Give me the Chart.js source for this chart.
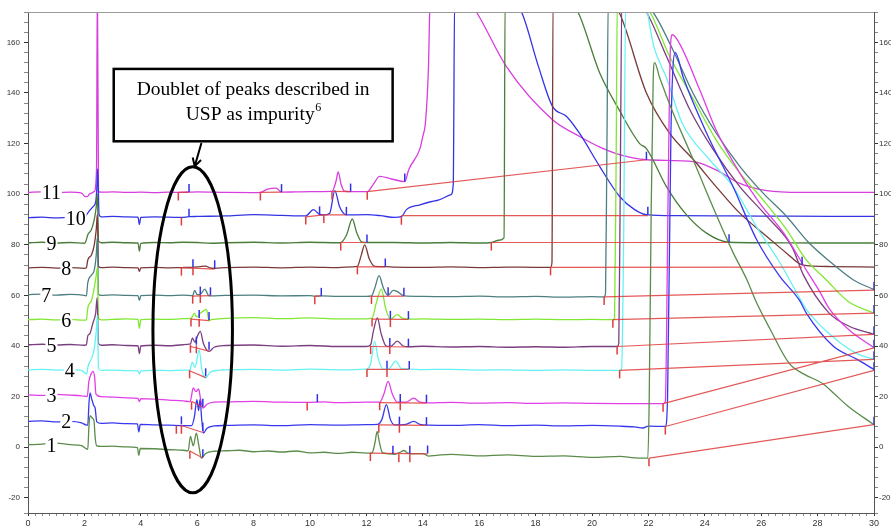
<!DOCTYPE html>
<html>
<head>
<meta charset="utf-8">
<script src="https://cdn.jsdelivr.net/npm/chart.js@4.4.1/dist/chart.umd.min.js"></script>
<style>
  html, body { margin: 0; padding: 0; background: #fff; }
  #wrap { width: 891px; height: 531px; }
</style>
</head>
<body>
<div id="wrap"><canvas id="chrom" width="891" height="531"></canvas></div>
<script>
// Chromatograms 1..11 (time in minutes, response)
const trace1 = [[0,1],[0.5,1.2],[1.0,1.6],[1.5,1.0],[1.9,0.6],[2.05,-0.5],[2.12,-0.8],[2.16,8],[2.2,12.5],[2.28,11.5],[2.34,10.5],[2.38,4],[2.44,0.5],[2.6,0.3],[3.0,0.4],[3.5,0.1],[3.88,-0.2],[3.93,-3.2],[3.98,-0.5],[4.5,-0.6],[5.0,-1.0],[5.5,-1.2],[5.68,-1.4],[5.76,4.3],[5.86,0.5],[5.97,5.6],[6.06,0.5],[6.15,-4.3],[6.3,-2.5],[6.6,-1.6],[7.0,-1.4],[7.5,-1.2],[8.0,-1.8],[8.5,-1.5],[9.0,-1.9],[9.5,-1.5],[10.0,-2.2],[10.5,-2.0],[11.0,-2.4],[11.5,-2.0],[12.0,-2.3],[12.2,-2.2],[12.3,1.5],[12.38,6.2],[12.46,2],[12.56,-2],[12.7,-2.5],[13.0,-2.8],[13.2,-2.0],[13.33,-1.3],[13.45,-2.2],[13.6,-2.6],[14.0,-2.5],[14.2,-3.5],[14.5,-3.2],[15,-2.8],[16,-3.4],[17,-3.0],[18,-3.6],[19,-3.4],[20,-4.0],[21,-3.6],[21.5,-4.2],[21.98,-4.3],[22.03,20],[22.1,95],[22.17,145],[22.22,152],[22.4,146],[22.88,132],[23.5,116],[24.17,98],[25.0,77],[25.5,66],[25.8,58],[26.3,47],[27.0,33],[27.5,29],[28.2,25],[28.6,21],[29.1,16],[30,8.9]];
const trace2 = [[0,10.2],[0.5,10.4],[1.0,10.0],[1.5,10.2],[1.9,9.6],[2.05,8.8],[2.12,8.7],[2.16,17],[2.2,21.5],[2.26,19],[2.33,16.5],[2.38,15.5],[2.44,10],[2.6,9.4],[3.0,9.6],[3.5,9.3],[3.88,9.2],[3.93,6],[3.98,9],[4.5,8.8],[5.0,8.7],[5.5,8.5],[5.8,8.5],[5.9,12],[5.99,18.8],[6.05,14.5],[6.1,18.9],[6.16,11],[6.22,5.6],[6.35,7.5],[6.6,8.4],[7.0,8.6],[8,8.8],[9,8.5],[10,8.9],[11,8.7],[12,8.9],[12.4,9],[12.55,11],[12.71,16.8],[12.85,11],[13.0,8.8],[13.4,9.0],[13.68,10.2],[13.9,9.0],[14.2,8.7],[15,8.6],[16,8.9],[17,8.5],[18,8.7],[19,8.4],[20,8.6],[21,8.3],[21.5,8.0],[21.8,7.6],[22.0,8.3],[22.6,8.2],[22.68,20],[22.8,125],[22.95,156],[23.24,146],[24.07,124],[25.0,103],[25.84,82],[26.66,67.5],[27.36,58],[27.6,53],[28.55,40],[29.4,34.7],[30,30.7]];
const trace3 = [[0,20.7],[0.5,20.5],[1.0,20.9],[1.5,20.6],[1.9,20.3],[2.1,20],[2.16,26],[2.24,29],[2.3,30],[2.36,28],[2.41,21],[2.6,20],[3.0,19.8],[3.5,19.5],[3.9,19.3],[3.95,18],[4.0,19.2],[4.5,19.0],[5.0,18.6],[5.5,18.3],[5.75,18],[5.86,23.4],[5.95,22],[6.05,23],[6.12,19],[6.2,15.5],[6.35,17],[6.6,17.8],[7,17.9],[8,18.1],[9,17.8],[9.9,17.7],[10.5,17.9],[11,17.6],[12,17.8],[12.47,17.8],[12.62,21],[12.77,26],[12.92,21],[13.1,17.8],[13.4,17.8],[13.68,19.4],[13.9,17.8],[14.2,17.5],[15,17.7],[16,17.4],[17,17.6],[18,17.3],[19,17.5],[20,17.3],[21,17.2],[22,17.2],[22.52,17.2],[22.6,18],[22.7,100],[22.78,158],[22.85,163],[23.1,159.6],[23.83,141],[24.4,125.4],[25.24,108.3],[25.95,96.4],[26.8,84.6],[27.6,70],[28.1,61],[28.4,55],[29.1,46.5],[30,39.3]];
const trace4 = [[0,30.6],[0.5,30.8],[1.0,30.5],[1.5,30.7],[1.9,30.4],[2.0,29.5],[2.08,29],[2.13,32],[2.25,35],[2.35,39],[2.42,46],[2.46,52],[2.5,31],[2.6,30.4],[3.0,30.5],[3.5,30.3],[3.9,30.2],[3.95,29],[4.0,30.2],[4.5,30.4],[5.0,30.3],[5.5,30.5],[5.73,30.5],[5.83,33.5],[5.92,31.5],[6.07,38.5],[6.16,31],[6.3,27.4],[6.45,29.5],[6.7,30.4],[7,30.6],[8,30.8],[9,30.5],[10,30.9],[11,30.6],[12.0,30.9],[12.15,33],[12.29,41.8],[12.42,35],[12.6,30.8],[12.8,31],[13.04,34],[13.25,31],[13.5,30.9],[14,30.7],[15,30.8],[16,30.5],[17,30.6],[18,30.4],[19,30.6],[20,30.4],[20.98,30.4],[21.05,31],[21.12,80],[21.2,178],[21.8,178],[22.2,158],[22.64,146],[23.2,128],[24.17,113.6],[25.0,103],[25.84,87],[26.66,73],[27.36,59],[27.6,54.5],[28.2,47],[28.8,41.3],[29.4,37],[30,34.7]];
const trace5 = [[0,40.5],[0.5,40.7],[1.0,40.4],[1.5,40.6],[2.0,40.3],[2.07,40.5],[2.12,44],[2.2,45],[2.3,49],[2.4,53],[2.45,59],[2.5,41],[2.6,40.3],[3.0,40.5],[3.5,40.2],[3.9,40.1],[3.95,37],[4.0,40],[4.5,40.3],[5.0,40.1],[5.5,40.5],[5.76,40.8],[5.83,43.2],[5.92,41.5],[6.01,44],[6.11,45.8],[6.22,41],[6.42,37.9],[6.6,39.5],[7,40.2],[8,40.4],[9,39.9],[10,40.2],[11,39.8],[12.0,39.8],[12.15,40.5],[12.25,46],[12.39,51.1],[12.52,45],[12.7,40],[12.85,39.8],[13.1,41.9],[13.3,40],[13.5,39.7],[14,39.9],[15,39.6],[16,39.8],[17,39.5],[18,39.7],[19,39.5],[20,39.8],[20.89,39.8],[20.95,41],[21.0,100],[21.06,178],[21.5,178],[21.93,172],[22.64,154.5],[23.47,133.4],[24.3,117.6],[25.24,103],[26.2,91.2],[27.1,79],[27.5,68],[28.4,53.1],[29.1,47.9],[30,44.6]];
const trace6 = [[0,50.4],[0.5,50.6],[1.0,50.3],[1.5,50.5],[2.0,50.2],[2.07,50.3],[2.12,55],[2.25,58],[2.35,63],[2.42,68],[2.46,71],[2.5,51],[2.6,50.3],[3.0,50.5],[3.5,50.7],[3.9,50.5],[3.95,47],[4.0,50.4],[4.5,50.6],[5.0,50.5],[5.5,50.8],[5.78,50.9],[5.9,52.9],[5.98,51.5],[6.12,53],[6.33,54.5],[6.42,50],[6.5,50.4],[7,50.9],[8,51.2],[9,50.8],[10,51.1],[11,50.7],[12.0,50.7],[12.2,51],[12.35,57],[12.53,62.5],[12.68,55],[12.85,50.5],[13.09,52.4],[13.3,50.8],[13.5,50.6],[14,50.7],[15,50.5],[16,50.6],[17,50.4],[18,50.6],[19,50.4],[20,50.5],[20.74,50.4],[20.8,51],[20.86,120],[20.9,178],[21.5,178],[22.05,172],[22.75,154.5],[23.6,137.4],[24.4,121.5],[25.24,108.4],[26.06,97.8],[26.9,86],[27.6,74],[28.3,66.2],[29.1,57.5],[30,53]];
const trace7 = [[0,60.3],[0.5,60.5],[1.0,60.1],[1.5,60.4],[2.0,60],[2.07,59.8],[2.12,65],[2.25,68],[2.35,70],[2.42,76],[2.46,83],[2.5,60.5],[2.6,60],[3.0,60.2],[3.5,60],[3.9,59.9],[3.95,58],[4.0,59.9],[4.5,60.1],[5.0,59.9],[5.5,60.1],[5.84,59.9],[5.91,62],[6.0,60.3],[6.11,60.4],[6.27,62.5],[6.4,60],[6.5,59.8],[7,60],[8,60.1],[9,59.8],[10,59.9],[10.17,59.7],[10.4,59.8],[11,59.6],[12.0,59.6],[12.18,59.8],[12.3,63],[12.45,67.8],[12.6,63],[12.77,60],[12.95,62],[13.1,61.5],[13.33,59.8],[14,59.6],[15,59.5],[16,59.7],[17,59.4],[18,59.6],[19,59.3],[20,59.5],[20.43,59.4],[20.48,61],[20.53,120],[20.58,178],[21.5,178],[22.16,172],[22.87,157],[23.58,140],[24.4,124.2],[25.24,111],[26.06,100.5],[26.9,91.2],[27.7,80.7],[28.5,72.8],[29.26,66.2],[30,62.3]];
const trace8 = [[0,70.9],[0.5,71.1],[1.0,70.8],[1.5,71],[2.0,70.7],[2.07,70.9],[2.12,74],[2.25,76],[2.35,80],[2.42,86],[2.46,92],[2.5,71.5],[2.6,71],[3.0,71.2],[3.5,71],[3.9,70.9],[3.95,69.5],[4.0,70.9],[4.5,71.1],[5.0,70.9],[5.44,71],[5.85,71.1],[6.1,71.4],[6.3,71.6],[6.45,70.9],[6.62,70.7],[7,71],[8,71.2],[9,70.9],[10,71.2],[11,71],[11.5,71.3],[11.68,71.5],[11.82,76],[11.94,80],[12.1,74.5],[12.3,71.5],[12.67,71.4],[13,71.2],[14,71.1],[15,71.3],[16,71],[17,71.2],[18,71.1],[18.53,71.1],[18.58,73],[18.62,178],[20.5,178],[20.98,171.4],[21.93,140],[22.75,124.1],[23.6,113.6],[24.4,103],[25.24,92.5],[26.2,83.3],[26.9,76.7],[27.45,72.1],[28.5,71.4],[30,71.2]];
const trace9 = [[0,80.8],[0.5,81],[1.0,80.7],[1.5,80.9],[2.0,80.6],[2.05,81.3],[2.12,84],[2.25,86],[2.35,90],[2.42,95],[2.46,100],[2.5,81.5],[2.6,80.8],[3.0,81],[3.5,80.8],[3.9,80.7],[3.95,77.5],[4.0,80.6],[4.5,80.9],[5.0,80.8],[5.5,81],[6,80.9],[6.5,80.6],[7,80.8],[8,81],[9,80.7],[10,81],[11,80.8],[11.09,80.9],[11.3,84],[11.5,90.2],[11.65,85],[11.85,81],[12.02,80.9],[13,80.9],[14,80.7],[15,80.9],[16,80.7],[16.43,80.9],[16.7,81.8],[16.88,82.7],[16.92,178],[19.0,178],[19.5,172],[20.27,148],[20.98,133],[21.69,120],[21.93,118],[22.64,103],[23.3,92.5],[24.06,84.6],[24.86,81],[26,80.8],[28,80.7],[30,80.7]];
const trace10 = [[0,90.7],[0.5,90.9],[1.0,90.6],[1.5,90.8],[1.9,90.5],[2.05,91.5],[2.15,93],[2.3,95],[2.4,97],[2.44,102],[2.47,110],[2.52,92],[2.6,91],[3,91.2],[3.5,91],[3.9,90.9],[3.95,88],[4.0,90.8],[4.5,91],[5.0,90.9],[5.44,90.8],[5.71,91.1],[6,91.2],[7,91.4],[8,91.9],[9,91.6],[9.85,91.4],[10.12,93.9],[10.34,92],[10.49,91.8],[10.7,92.5],[10.88,101.4],[11.05,95],[11.29,91.8],[12,91.9],[12.5,91.5],[13.0,90.8],[13.24,91.1],[13.42,93.9],[13.9,95.8],[14.5,97.5],[15.0,99.8],[15.08,104],[15.13,178],[17.0,178],[17.5,172],[18.1,150.5],[18.6,134.7],[19.1,130.7],[19.56,124],[20.27,111],[20.98,99.1],[21.5,94],[21.93,91.9],[23,91.5],[25,91.4],[27,91.3],[30,91.2]];
const trace11 = [[0,100.7],[0.5,100.9],[1.0,100.6],[1.5,100.8],[1.9,100.4],[2.0,99.2],[2.1,99],[2.2,100.2],[2.35,101],[2.43,110],[2.46,185],[2.5,101],[2.6,100.8],[3,100.9],[3.5,100.7],[4,100.8],[4.5,100.6],[5.0,100.8],[5.33,100.7],[5.71,100.8],[6,100.9],[7,100.7],[8,100.6],[8.24,100.7],[8.5,102],[8.8,102.4],[8.99,100.8],[9.5,100.9],[10,101],[10.78,101.1],[10.92,105],[11.0,108.8],[11.1,104],[11.22,101.2],[11.44,101],[12.03,101],[12.25,104],[12.47,107],[12.9,106],[13.36,105],[13.5,109.7],[13.9,118],[14.0,122.8],[14.1,129],[14.2,150],[14.28,185],[15.0,185],[15.9,172],[16.96,150.5],[18.6,129.4],[19.56,122.8],[20.3,118.5],[20.98,115.6],[21.93,113.6],[23.6,112.9],[24.4,109.6],[25.24,104.3],[26.2,101.4],[27.4,100.7],[30,100.7]];

// Integration marks: start (red, below) and end (blue, above)
const redTicks = [[5.33,100.7],[8.24,100.7],[10.78,101.1],[12.03,101],[5.44,90.8],[9.85,91.2],[10.49,91.8],[13.24,91.1],[11.09,80.9],[16.43,80.9],[5.44,71],[5.85,71.1],[11.68,71.5],[18.53,71.1],[5.84,59.9],[6.11,60.2],[10.17,59.7],[12.18,59.8],[20.43,59.4],[5.78,50.9],[6.07,50.8],[12.2,50.9],[12.85,50.7],[20.74,50.4],[5.76,40.5],[5.97,40.3],[12.15,40],[12.83,40],[20.89,39.8],[5.73,30.4],[12.02,30.9],[12.73,30.9],[20.98,30.4],[5.8,18],[9.9,17.7],[12.47,17.8],[13.2,17.8],[22.52,17.2],[5.26,8.5],[5.44,8.5],[12.44,8.9],[13.17,8.9],[22.6,8.2],[5.74,-1.4],[12.14,-2.3],[13.15,-2.8],[13.54,-2.8],[22.02,-4.3]];
const blueTicks = [[5.71,100.8],[8.99,100.8],[11.44,101],[13.36,105],[21.93,113.6],[5.71,91.1],[10.34,92],[11.29,91.8],[21.98,91.9],[12.02,80.9],[24.86,81],[5.85,71.1],[6.62,70.7],[12.67,71.4],[27.45,72.1],[6.11,60.3],[6.47,60],[10.4,59.8],[12.77,60],[13.33,59.8],[30,62.1],[6.07,51],[6.42,50.3],[12.85,50.7],[13.49,50.6],[30,53],[5.97,40.5],[6.42,38.5],[12.83,40],[13.49,39.7],[30,44.6],[6.3,28],[12.73,31],[13.52,30.9],[30,34.7],[6.2,16],[10.26,17.8],[13.2,17.8],[14.13,17.6],[30,39.3],[5.44,9],[6.2,6.5],[13.17,8.9],[14.13,8.7],[30,30.4],[6.2,-4],[12.94,-2.6],[13.54,-2.6],[14.17,-2.5],[30,8.9]];

// Baseline segments drawn by the integrator
const baselineSegments = [
  [[5.33,100.7],[5.71,100.8]], [[8.24,100.7],[8.99,100.8]], [[10.78,101.1],[11.44,101]], [[12.03,101],[21.93,113.6]],
  [[9.85,91],[10.49,91.8]], [[10.49,91.8],[11.29,91.8]], [[13.24,91.5],[21.98,91.5]],
  [[11.09,80.9],[12.02,80.9]], [[16.43,80.9],[24.86,80.9]],
  [[5.44,71],[6.62,70.4]], [[11.68,71.3],[12.67,71.3]], [[18.53,71.1],[27.45,71.2]],
  [[5.84,59.7],[6.47,59.9]], [[10.17,59.7],[10.4,59.8]], [[12.18,59.6],[13.33,59.7]], [[20.43,59.4],[30,62.1]],
  [[5.78,50.6],[6.42,50]], [[12.2,50.6],[13.49,50.5]], [[20.74,50.4],[30,53]],
  [[5.76,39.8],[6.42,38]], [[12.15,39.8],[13.49,39.6]], [[20.89,39.8],[30,44.6]],
  [[5.73,30.2],[6.3,27.5]], [[12.02,30.8],[13.52,30.8]], [[20.98,30.4],[30,34.7]],
  [[5.8,18.2],[6.2,15.8]], [[12.47,17.6],[14.13,17.4]], [[22.52,17.2],[30,39.3]],
  [[5.44,8.6],[6.2,5.8]], [[12.44,8.8],[14.13,8.6]], [[22.6,8.2],[30,30.4]],
  [[5.74,-1.5],[6.2,-4.3]], [[12.14,-2.3],[14.17,-2.6]], [[22.02,-4.3],[30,8.9]]
];

const traces = [trace1, trace2, trace3, trace4, trace5, trace6, trace7, trace8, trace9, trace10, trace11];
const traceColors = ['#5b8c4a', '#3838ee', '#e03ee6', '#66f2f2', '#7a3f7f', '#80e832', '#4d7f80', '#7a3838', '#4a7d3c', '#3434e4', '#d83ede'];

const yMin = -26, yMax = 172;
const tickOffset = 1.6; // half a mark length, in response units

const toXY = arr => arr.map(p => ({ x: p[0], y: p[1] }));
const isMultiple = (v, step) => Math.abs(v / step - Math.round(v / step)) < 1e-6;

const datasets = traces.map((t, i) => ({
  label: String(i + 1),
  data: toXY(t),
  borderColor: traceColors[i],
  borderWidth: 1.3,
  pointRadius: 0,
  cubicInterpolationMode: 'monotone',
  order: 2
}));

const baselineData = [];
baselineSegments.forEach(seg => {
  baselineData.push({ x: seg[0][0], y: seg[0][1] }, { x: seg[1][0], y: seg[1][1] }, { x: seg[1][0], y: null });
});
datasets.push({
  label: 'baseline',
  data: baselineData,
  borderColor: 'rgba(222, 60, 60, 0.85)',
  borderWidth: 1.2,
  pointRadius: 0,
  spanGaps: false,
  order: 1
});
datasets.push({
  label: 'start',
  data: redTicks.map(p => ({ x: p[0], y: p[1] - tickOffset })),
  showLine: false,
  pointStyle: 'line',
  pointRotation: 90,
  pointRadius: 4,
  pointBorderWidth: 1.5,
  pointBorderColor: '#e03c3c',
  order: 0
});
datasets.push({
  label: 'end',
  data: blueTicks.map(p => ({ x: p[0], y: p[1] + tickOffset })),
  showLine: false,
  pointStyle: 'line',
  pointRotation: 90,
  pointRadius: 4,
  pointBorderWidth: 1.5,
  pointBorderColor: '#3030e8',
  order: 0
});

// Text, callout box and ellipse, placed in chart units
const annotations = {
  id: 'annotations',
  afterDatasetsDraw(chart) {
    const { ctx, chartArea } = chart;
    const xs = chart.scales.x, ys = chart.scales.y;
    const px = v => xs.getPixelForValue(v);
    const py = v => ys.getPixelForValue(v);
    ctx.save();

    // frame line on top
    ctx.strokeStyle = '#9a9a9a';
    ctx.lineWidth = 1;
    ctx.beginPath();
    ctx.moveTo(chartArea.left, chartArea.top + 0.5);
    ctx.lineTo(chartArea.right, chartArea.top + 0.5);
    ctx.stroke();

    // trace numbers
    const numberX = [0.83, 1.36, 0.83, 1.48, 0.83, 1.36, 0.65, 1.36, 0.83, 1.69, 0.83];
    ctx.font = '20px "Liberation Serif", "Times New Roman", serif';
    ctx.textAlign = 'center';
    ctx.textBaseline = 'alphabetic';
    traces.forEach((t, i) => {
      const label = String(i + 1);
      const cx = px(numberX[i]), cy = py(t[0][1]);
      const w = ctx.measureText(label).width;
      ctx.fillStyle = '#fff';
      ctx.fillRect(cx - w / 2 - 1, cy - 7, w + 2, 14);
      ctx.fillStyle = '#000';
      ctx.fillText(label, cx, cy + 7);
    });

    // ellipse round the doublet
    const ex = px(5.84), ey = py(46.4);
    ctx.strokeStyle = '#000';
    ctx.lineWidth = 3;
    ctx.beginPath();
    ctx.ellipse(ex, ey, px(5.84 + 1.41) - ex, py(46.4 - 64.4) - ey, 0, 0, Math.PI * 2);
    ctx.stroke();

    // callout box
    const bl = px(3.04), br = px(12.93), bt = py(149.5), bb = py(120.9);
    ctx.fillStyle = '#fff';
    ctx.fillRect(bl, bt, br - bl, bb - bt);
    ctx.lineWidth = 2.5;
    ctx.strokeRect(bl, bt, br - bl, bb - bt);
    const bc = (bl + br) / 2, bh = bb - bt;
    ctx.fillStyle = '#000';
    ctx.font = '19.5px "Liberation Serif", "Times New Roman", serif';
    ctx.textAlign = 'center';
    ctx.textBaseline = 'middle';
    ctx.fillText('Doublet of peaks described in', bc, bt + bh * 0.29);
    const l2 = 'USP as impurity';
    const w2 = ctx.measureText(l2).width;
    ctx.font = '12px "Liberation Serif", "Times New Roman", serif';
    const ws = ctx.measureText('6').width;
    ctx.textAlign = 'left';
    ctx.font = '19.5px "Liberation Serif", "Times New Roman", serif';
    const l2x = bc - (w2 + ws) / 2;
    ctx.fillText(l2, l2x, bt + bh * 0.64);
    ctx.font = '12px "Liberation Serif", "Times New Roman", serif';
    ctx.fillText('6', l2x + w2 + 0.5, bt + bh * 0.64 - 7);

    // arrow from box to ellipse
    const ax1 = px(6.15), ay1 = py(120.2), ax2 = px(5.91), ay2 = py(111);
    ctx.lineWidth = 2;
    ctx.beginPath();
    ctx.moveTo(ax1, ay1);
    ctx.lineTo(ax2, ay2);
    const ang = Math.atan2(ay2 - ay1, ax2 - ax1);
    const head = 9;
    ctx.moveTo(ax2 - head * Math.cos(ang - 0.5), ay2 - head * Math.sin(ang - 0.5));
    ctx.lineTo(ax2, ay2);
    ctx.lineTo(ax2 - head * Math.cos(ang + 0.5), ay2 - head * Math.sin(ang + 0.5));
    ctx.stroke();

    ctx.restore();
  }
};

const axisFont = { family: '"Liberation Sans", Arial, sans-serif', size: 8 };

function yAxis(position, width) {
  return {
    type: 'linear',
    position: position,
    min: yMin,
    max: yMax,
    ticks: {
      stepSize: 4,
      autoSkip: false,
      padding: position === 'left' ? 4 : 1,
      color: '#333',
      font: axisFont,
      callback: v => isMultiple(v, 20) ? v : ''
    },
    grid: {
      drawOnChartArea: false,
      tickLength: 4,
      tickColor: c => isMultiple(c.tick.value, 20) ? '#333' : '#888'
    },
    border: { color: '#555', width: 1 },
    afterFit: s => { s.width = width; }
  };
}

new Chart(document.getElementById('chrom').getContext('2d'), {
  type: 'line',
  data: { datasets: datasets },
  options: {
    responsive: false,
    animation: false,
    layout: { padding: { top: 12, left: 0, right: 0, bottom: 0 } },
    plugins: { legend: { display: false }, tooltip: { enabled: false } },
    scales: {
      x: {
        type: 'linear',
        min: 0,
        max: 30,
        ticks: {
          stepSize: 0.25,
          autoSkip: false,
          maxRotation: 0,
          padding: 2,
          color: '#333',
          font: { family: axisFont.family, size: 9 },
          callback: v => isMultiple(v, 2) ? v : ''
        },
        grid: {
          drawOnChartArea: false,
          tickLength: 3,
          tickColor: c => isMultiple(c.tick.value, 2) ? '#333' : '#888'
        },
        border: { color: '#555', width: 1 },
        afterFit: s => { s.height = 18; }
      },
      y: yAxis('left', 28),
      y2: yAxis('right', 17)
    }
  },
  plugins: [annotations]
});
</script>
</body>
</html>
